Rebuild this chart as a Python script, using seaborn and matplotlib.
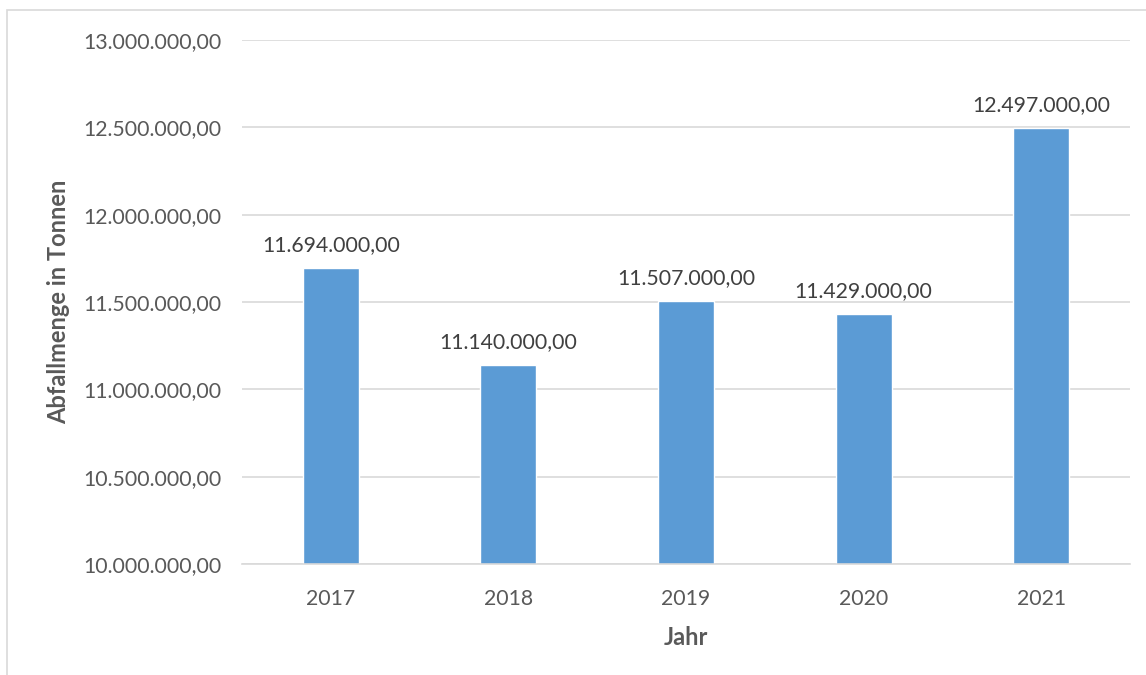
import matplotlib
matplotlib.use("Agg")
import matplotlib.pyplot as plt
import seaborn as sns
import pandas as pd
from matplotlib.ticker import FuncFormatter
from matplotlib.patches import Rectangle

years = ["2017", "2018", "2019", "2020", "2021"]
values = [11694000, 11140000, 11507000, 11429000, 12497000]
yticks = [10000000, 10500000, 11000000, 11500000, 12000000, 12500000, 13000000]

def de(v):
    s = f"{v:,.2f}"
    return s.replace(",", "X").replace(".", ",").replace("X", ".")

sns.set_theme(style="white")
plt.rcParams['font.family'] = ['Lato', 'DejaVu Sans']

fig = plt.figure(figsize=(11.46, 6.75), dpi=100)
ax = fig.add_axes([242/1146, 1-564/675, (1130-242)/1146, (564-40)/675])

df = pd.DataFrame({"Jahr": years, "Wert": values})
sns.barplot(data=df, x="Jahr", y="Wert", color="#5B9BD5", width=0.315,
            saturation=1, ax=ax, zorder=2)

ax.set_ylim(10000000, 13000000)
ax.set_yticks(yticks)
ax.yaxis.set_major_formatter(FuncFormatter(lambda v, p: de(v)))
ax.grid(axis="y", color="#D9D9D9", linewidth=1.2, zorder=0)
ax.set_axisbelow(True)
for s in ["top", "right", "left"]:
    ax.spines[s].set_visible(False)
ax.spines["bottom"].set_color("#D9D9D9")
ax.spines["bottom"].set_linewidth(1.2)
ax.tick_params(axis="both", length=0, labelsize=15.3, colors="#595959")
ax.tick_params(axis="y", pad=15)
ax.tick_params(axis="x", pad=18)

for i, v in enumerate(values):
    ax.text(i, v + 75000, de(v), ha="center", va="bottom", fontsize=15.3,
            color="#404040")

ax.set_ylabel("Abfallmenge in Tonnen", fontsize=17, fontweight="bold",
              color="#595959", labelpad=9)
ax.set_xlabel("Jahr", fontsize=17, fontweight="bold", color="#595959",
              labelpad=12)

fig.patches.append(Rectangle((7/1146, -0.1), 1.2, 1.1 - 10/675,
                             transform=fig.transFigure, fill=False,
                             edgecolor="#D9D9D9", linewidth=1.2))

fig.savefig("out.png", dpi=100)
